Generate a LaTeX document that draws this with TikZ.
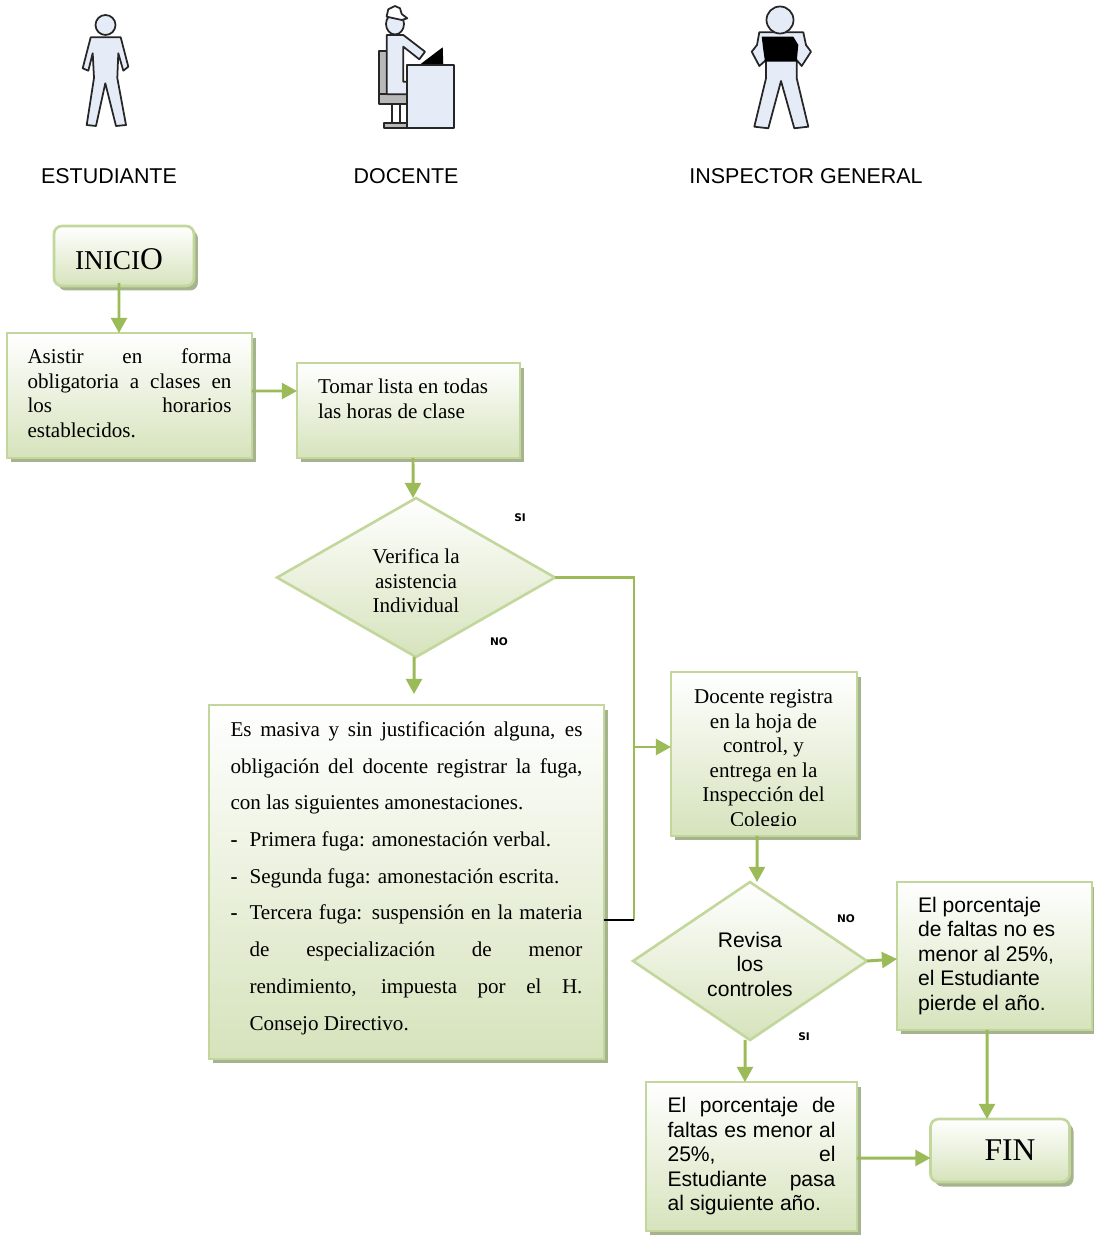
\documentclass[tikz,border=0pt]{standalone}
\usepackage{fontspec}
\setmainfont{Liberation Serif}
\setsansfont{Liberation Sans}
\newfontfamily\marca{DejaVu Sans}
\usepackage{tikz}
\usetikzlibrary{shapes.geometric,shadows,arrows.meta}
\definecolor{borde}{HTML}{C3D69B}
\definecolor{relleno}{HTML}{D6E3BC}
\definecolor{sombra}{HTML}{A6B38F}
\definecolor{flecha}{HTML}{9BBB59}
\definecolor{figura}{HTML}{E6ECF7}
\definecolor{silla}{HTML}{B8B8B8}
\newcommand{\renglon}[2]{\makebox[#1][s]{#2}}
\newcommand{\guion}{\makebox[0.38cm][l]{\textbf{-}}}
\tikzset{
	serif/.style={font=\rmfamily\fontsize{12}{13.95}\selectfont},
	serifancha/.style={font=\rmfamily\fontsize{12}{20.9}\selectfont},
	sans/.style={font=\sffamily\fontsize{12}{13.95}\selectfont},
	caja/.style={draw=borde, line width=1.5pt, top color=white, bottom color=relleno, inner sep=0pt, outer sep=0pt, align=justify,
		general shadow={fill=sombra, shadow xshift=0.08cm, shadow yshift=-0.09cm}},
	extremo/.style={caja, rounded corners=0.16cm, align=center},
	decision/.style={diamond, draw=borde, line width=1.5pt, top color=white, bottom color=relleno, inner sep=0pt, outer sep=0pt, aspect=1.75, align=center},
	linea/.style={draw=flecha, line width=1.5pt},
	paso/.style={draw=flecha, line width=1.7pt, -{Triangle[length=8.6pt,width=9pt]}},
	titulo/.style={font=\sffamily\fontsize{12.2}{14}\selectfont},
	marcasn/.style={font=\marca\bfseries\fontsize{6}{7}\selectfont},
	persona/.style={draw=black!85, line width=1pt, fill=figura, line join=round}
}
\begin{document}
\begin{tikzpicture}[x=0.02cm,y=-0.02cm]
	\useasboundingbox (0,0) rectangle (1094,1236);

	\draw[persona] (90.7,37.3) -- (120.7,37.3) -- (128.3,66.7) -- (123.3,70.7) -- (118.3,53.3) -- (117.3,78) -- (126,125) -- (116,126) -- (105.3,83.3) -- (96,126) -- (86.7,125) -- (94,78) -- (92.7,53.3) -- (88.3,70.7) -- (82.7,68.3) -- cycle;
	\draw[persona] (105.5,25) circle (10);

	\draw[persona, fill=silla] (379.3,50.7) rectangle (386.7,94.3);
	\draw[persona, fill=silla] (379.3,94.3) rectangle (407.3,104);
	\draw[persona, fill=white] (391.7,104) rectangle (400,123.3);
	\draw[persona, fill=silla] (384,123.3) rectangle (407.3,127.7);
	\fill[black] (419.3,65) -- (442.7,47.3) -- (443.3,65) -- cycle;
	\draw[persona] (386.7,35) -- (403.3,35) -- (425,51.7) -- (419.3,59.3) -- (403.3,46.7) -- (403.3,81.7) -- (407.3,81.7) -- (407.3,94.3) -- (386.7,94.3) -- cycle;
	\draw[persona] (395,24) ellipse (9 and 10.5);
	\draw[persona, fill=white] (386.7,16) -- (388.3,9.3) -- (395,6) -- (400,8.3) -- (401.7,14) -- (407.3,18.3) -- (401.7,20) -- (386.7,16.7) -- cycle;
	\draw[persona] (407.3,65) rectangle (454.3,127.7);

	\draw[persona] (759.3,32.3) -- (803.3,32.3) -- (806,45) -- (811,51.7) -- (801.7,66) -- (796.7,60) -- (796.7,78.3) -- (808.3,126.7) -- (794.3,128.3) -- (781,81) -- (768.3,128.3) -- (754.3,126.7) -- (766,78.3) -- (766,60) -- (759.3,66) -- (751.7,51.7) -- (757,45) -- cycle;
	\draw[persona] (780,20) circle (13.5);
	\fill[black] (761.7,36.7) -- (793.3,36.7) -- (798.3,45) -- (796.7,61.7) -- (765,61.7) -- (763.3,50) -- cycle;

	\node[titulo] (estudiante) at (109,176) {ESTUDIANTE};
	\node[titulo] (profesor) at (406,176) {DOCENTE};
	\node[titulo] (inspector) at (806,176) {INSPECTOR GENERAL};

	\node[extremo, serif, minimum width=2.8cm, minimum height=1.2cm] (inicio) at (124,256) {\rule{0pt}{15.5pt}{\fontsize{15.5}{18}\selectfont INICI}{\fontsize{18}{18}\selectfont O}\hspace*{0.2cm}};
	\node[caja, serif, minimum width=4.9cm, minimum height=2.5cm, text width=4.08cm] (asistir) at (129.5,395.5) {\renglon{4.08cm}{Asistir en forma}\\\renglon{4.08cm}{obligatoria a clases en}\\\renglon{4.08cm}{los horarios}\\establecidos.\par\kern0.1cm};
	\node[caja, serif, minimum width=4.46cm, minimum height=1.9cm, text width=3.62cm] (tomar) at (408.5,410.5) {Tomar lista en todas\\las horas de clase\par\kern0.46cm};
	\node[decision, serif, minimum width=5.56cm, minimum height=3.18cm] (verifica) at (416,577.5) {\rule{0pt}{0.14cm}\\[-0.2cm]Verifica la\\asistencia\\Individual};
	\node[caja, serifancha, minimum width=7.9cm, minimum height=7.08cm, text width=7.04cm] (masiva) at (406.5,882) {\renglon{7.04cm}{Es masiva y sin justificación alguna, es}\\\renglon{7.04cm}{obligación del docente registrar la fuga,}\\con las siguientes amonestaciones.\\\guion Primera fuga: amonestación verbal.\\\guion Segunda fuga: amonestación escrita.\\\guion\renglon{6.66cm}{Tercera fuga: suspensión en la materia}\\\hspace*{0.38cm}\renglon{6.66cm}{de especialización de menor}\\\hspace*{0.38cm}\renglon{6.66cm}{rendimiento, impuesta por el H.}\\\hspace*{0.38cm}Consejo Directivo.\par\kern0.16cm};

	\node[caja, minimum width=3.72cm, minimum height=3.28cm] (docente) at (764,754) {};
	\begin{scope}
		\clip (671,672) rectangle (857,825);
		\node[serif, anchor=north, align=center] (docentetxt) at (763.5,683.5) {Docente registra\\en la hoja de\\control, y\\entrega en la\\Inspección del\\Colegio};
	\end{scope}

	\node[decision, sans, minimum width=4.68cm, minimum height=3.16cm, aspect=1.48] (revisa) at (750,961) {\rule{0pt}{0.14cm}\\[-0.2cm]Revisa\\los\\controles};
	\node[caja, sans, minimum width=3.9cm, minimum height=2.96cm, text width=3.06cm] (pierde) at (994.5,956) {El porcentaje\\de faltas no es\\menor al 25\%,\\el Estudiante\\pierde el año.};
	\node[caja, sans, minimum width=4.22cm, minimum height=2.98cm, text width=3.36cm] (pasa) at (751.5,1156.5) {\renglon{3.36cm}{El porcentaje de}\\\renglon{3.36cm}{faltas es menor al}\\\renglon{3.36cm}{25\%, el}\\\renglon{3.36cm}{Estudiante pasa}\\al siguiente año.};
	\node[extremo, serif, minimum width=2.78cm, minimum height=1.26cm] (fin) at (1000,1150.5) {\hspace*{0.4cm}{\fontsize{18}{18}\selectfont FIN}};

	\node[marcasn] (si1) at (520,517.5) {SI};
	\node[marcasn] (no1) at (499,641.5) {NO};
	\node[marcasn] (no2) at (846,918.5) {NO};
	\node[marcasn] (si2) at (804,1036.5) {SI};

	\coordinate (codo) at (634,920);
	\coordinate (cruce) at (634,747);
	\draw[paso] ([xshift=-0.1cm,yshift=0.06cm]inicio.south) -- ([xshift=-0.21cm]asistir.north);
	\draw[paso] ([yshift=0.09cm]asistir.east) -- ([yshift=0.39cm]tomar.west);
	\draw[paso] ([xshift=0.09cm]tomar.south) -- ([xshift=-0.06cm]verifica.north);
	\draw[paso, shorten >=0.22cm] ([xshift=-0.04cm]verifica.south) -- ([xshift=0.15cm]masiva.north);
	\draw[linea] (verifica.east) -| (codo);
	\draw[black, line width=1.2pt] (masiva.east |- codo) -- (codo);
	\draw[paso] (cruce) -- (cruce -| docente.west);
	\draw[paso] ([xshift=-0.14cm]docente.south) -- ([xshift=0.14cm]revisa.north);
	\draw[paso] (revisa.east) -- ([yshift=0.04cm]pierde.west |- revisa.east);
	\draw[paso] ([xshift=-0.1cm]revisa.south) -- ([xshift=-0.13cm]pasa.north);
	\draw[paso] ([xshift=-0.15cm]pierde.south) -- ([xshift=-0.26cm]fin.north);
	\draw[paso] ([yshift=-0.03cm]pasa.east) -- ([yshift=-0.15cm]fin.west);
\end{tikzpicture}
\end{document}
